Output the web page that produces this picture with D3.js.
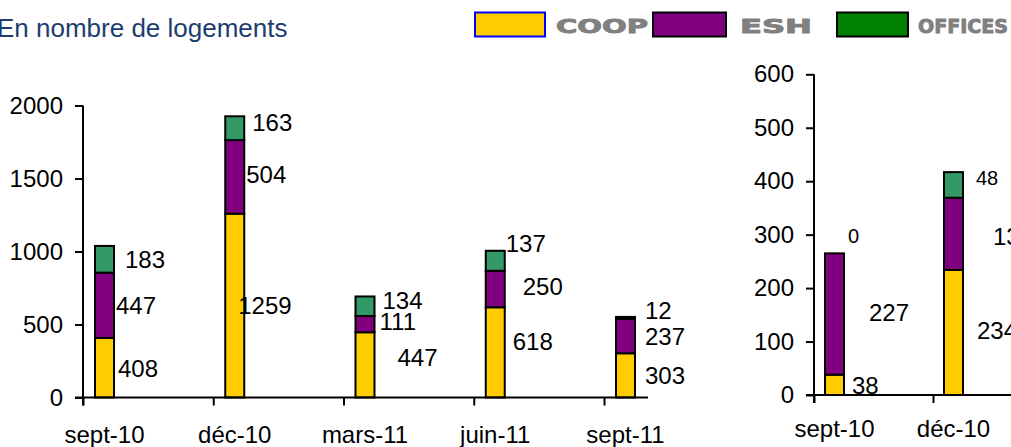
<!DOCTYPE html>
<html lang="fr">
<head>
<meta charset="utf-8">
<script src="https://cdn.jsdelivr.net/npm/d3@7"></script>
<style>
  html, body { margin: 0; padding: 0; background: #fff; }
  svg { display: block; font-family: "Liberation Sans", Arial, sans-serif; }
</style>
</head>
<body>
<svg id="chart" width="1011" height="447"></svg>
<script>
// Logements par famille de bailleur, par trimestre
const seriesNames = ["COOP", "ESH", "OFFICES"];

// Panneau principal
const categoriesLeft = ["sept-10", "déc-10", "mars-11", "juin-11", "sept-11"];
const coopLeft = [408, 1259, 447, 618, 303];
const eshLeft = [447, 504, 111, 250, 237];
const officesLeft = [183, 163, 134, 137, 12];
const yTicksLeft = [0, 500, 1000, 1500, 2000];

// Second panneau
const categoriesRight = ["sept-10", "déc-10"];
const coopRight = [38, 234];
const eshRight = [227, 135];
const officesRight = [0, 48];
const yTicksRight = [0, 100, 200, 300, 400, 500, 600];

// Décalage manuel des étiquettes [dx depuis le bord droit de la barre, dy depuis le milieu du segment]
const nudgeLeft = {
  COOP:    [[3, 1], [-7, 0], [22, -8], [7, -11], [9, 0]],
  ESH:     [[1, 0], [1, -3], [4, -3], [17, -3], [9, 0]],
  OFFICES: [[10, 0], [7, -6], [7, -6], [0, -17], [9, -7]]
};
const nudgeRight = {
  COOP:    [[7, 1], [13, -2]],
  ESH:     [[24, -2], [29, 3]],
  OFFICES: [[3, -18], [12, -7]]
};

const fill = { COOP: "#FFCC00", ESH: "#800080", OFFICES: "#339966" };
const legendFill = { COOP: "#FFCC00", ESH: "#800080", OFFICES: "#008000" };
const legendStroke = { COOP: "#0000FF", ESH: "#000", OFFICES: "#000" };

const svg = d3.select("#chart");

// Titre
svg.append("text")
  .attr("x", -3).attr("y", 37)
  .attr("font-size", 26)
  .attr("fill", "#1C3D6E")
  .text("En nombre de logements");

// Légende
const legendBoxes = { COOP: [474, 546], ESH: [652, 727], OFFICES: [836, 909] };
const legendText = { COOP: [556, 92], ESH: [740, 72], OFFICES: [918, 90] };
seriesNames.forEach(s => {
  const [x0, x1] = legendBoxes[s];
  svg.append("rect")
    .attr("x", x0 + 1).attr("y", 12.5)
    .attr("width", x1 - x0 - 2).attr("height", 24)
    .attr("fill", legendFill[s])
    .attr("stroke", legendStroke[s]).attr("stroke-width", 2);
  const [tx, tw] = legendText[s];
  svg.append("text")
    .attr("x", tx).attr("y", 33)
    .attr("font-family", "'DejaVu Sans', sans-serif")
    .attr("font-weight", "bold")
    .attr("font-size", 19)
    .attr("fill", "#808080")
    .attr("stroke", "#808080")
    .attr("stroke-width", 0.9)
    .attr("textLength", tw)
    .attr("lengthAdjust", "spacingAndGlyphs")
    .text(s);
});

function stackedPanel(opts) {
  const { cats, values, ticks, yDomain, yRange, xStart, step, axisEnd, nudges, barOffset, barWidth, catY, smallLabels } = opts;

  const y = d3.scaleLinear().domain(yDomain).range(yRange);
  const x = d3.scaleBand().domain(cats).range([xStart, xStart + step * cats.length]).padding(0);
  const g = svg.append("g");

  // Empilement des séries
  const rows = cats.map((c, i) => {
    const r = { cat: c };
    seriesNames.forEach(s => { r[s] = values[s][i]; });
    return r;
  });
  const stacked = d3.stack().keys(seriesNames)(rows);

  stacked.forEach(layer => {
    const s = layer.key;
    g.selectAll(null)
      .data(layer)
      .join("rect")
      .attr("x", d => x(d.data.cat) + barOffset)
      .attr("width", barWidth)
      .attr("y", d => y(d[1]))
      .attr("height", d => Math.max(0, y(d[0]) - y(d[1])))
      .attr("fill", fill[s])
      .attr("stroke", "#000")
      .attr("stroke-width", 2);
  });

  // Étiquettes de valeurs
  stacked.forEach(layer => {
    const s = layer.key;
    g.selectAll(null)
      .data(layer)
      .join("text")
      .attr("x", (d, i) => x(d.data.cat) + barOffset + barWidth + 1 + nudges[s][i][0])
      .attr("y", (d, i) => y((d[0] + d[1]) / 2) + nudges[s][i][1])
      .attr("dy", "0.36em")
      .attr("font-size", (d, i) => smallLabels.has(s + i) ? 20 : 24)
      .attr("fill", "#000")
      .text(d => d.data[s]);
  });

  // Axe vertical
  const yAxis = d3.axisLeft(y).tickValues(ticks).tickSize(8).tickPadding(12).tickFormat(d3.format("d"));
  const ya = g.append("g").attr("transform", `translate(${xStart},0)`).call(yAxis);
  ya.select(".domain").remove();
  ya.selectAll(".tick line").attr("stroke", "#000").attr("stroke-width", 2);
  ya.selectAll(".tick text").attr("font-size", 24).attr("font-family", "'Liberation Sans', Arial, sans-serif").attr("fill", "#000");
  g.append("line")
    .attr("x1", xStart).attr("x2", xStart)
    .attr("y1", y(yDomain[1])).attr("y2", y(0) + 8)
    .attr("stroke", "#000").attr("stroke-width", 2);

  // Axe horizontal
  const xt = d3.scaleLinear().domain([0, cats.length]).range([xStart, xStart + step * cats.length]);
  const xAxis = d3.axisBottom(xt).tickValues(d3.range(cats.length)).tickSize(8).tickFormat("");
  const xa = g.append("g").attr("transform", `translate(0,${y(0)})`).call(xAxis);
  xa.select(".domain").remove();
  xa.selectAll(".tick line").attr("stroke", "#000").attr("stroke-width", 2);
  g.append("line")
    .attr("x1", xStart - 8).attr("x2", axisEnd)
    .attr("y1", y(0)).attr("y2", y(0))
    .attr("stroke", "#000").attr("stroke-width", 2);

  // Libellés des trimestres
  g.selectAll(null)
    .data(cats)
    .join("text")
    .attr("x", c => x(c) + barOffset + barWidth / 2)
    .attr("y", catY)
    .attr("text-anchor", "middle")
    .attr("font-size", 24)
    .attr("fill", "#000")
    .text(c => c);
}

stackedPanel({
  cats: categoriesLeft,
  values: { COOP: coopLeft, ESH: eshLeft, OFFICES: officesLeft },
  ticks: yTicksLeft,
  yDomain: [0, 2000],
  yRange: [397.5, 105.5],
  xStart: 83,
  step: 130.25,
  axisEnd: 648,
  nudges: nudgeLeft,
  barOffset: 12,
  barWidth: 19,
  catY: 443,
  smallLabels: new Set()
});

stackedPanel({
  cats: categoriesRight,
  values: { COOP: coopRight, ESH: eshRight, OFFICES: officesRight },
  ticks: yTicksRight,
  yDomain: [0, 600],
  yRange: [395, 74.3],
  xStart: 814,
  step: 119,
  axisEnd: 1011,
  nudges: nudgeRight,
  barOffset: 11,
  barWidth: 19,
  catY: 437,
  smallLabels: new Set(["OFFICES0", "OFFICES1"])
});
</script>
</body>
</html>
